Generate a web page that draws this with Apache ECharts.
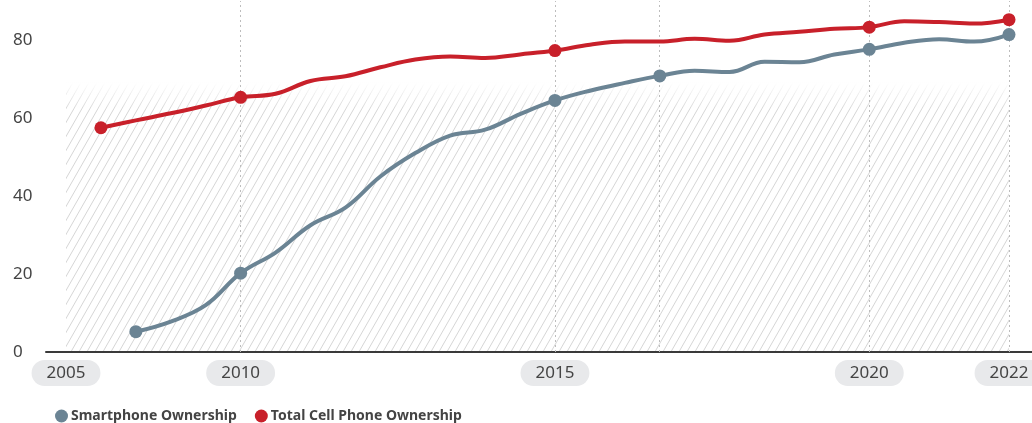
<!DOCTYPE html>
<html>
<head>
<meta charset="utf-8">
<script src="https://cdn.jsdelivr.net/npm/echarts@6/dist/echarts.min.js"></script>
<style>html,body{margin:0;padding:0;background:#fff;}#c{width:1032px;height:423px;}</style>
</head>
<body>
<div id="c"></div>
<script>
// ---- data ----
const categories = ['2005','2006','2007','2008','2009','2010','Jul 2010','2011','Jul 2011','2012','Jul 2012','2013','2014','Jul 2014','2015','Jul 2015','2016','Jul 2016','2017','2018','Jul 2018','2019','Jul 2019','2020','Jul 2020','2021','Jul 2021','2022'];
const tickLabels = ['2005','2010','2015','2020','2022'];
const guideLines = ['2010','2015','Jul 2016','2020','2022'];
const smartphone = ['-','-',5.2,7.8,12,20.2,25.5,32.5,37,45,51,55.5,57,61,64.5,67,69,70.8,72.1,71.8,74.4,74.3,76.3,77.6,79.3,80.2,79.6,81.4];
const totalCell = ['-',57.5,59.4,61.2,63.2,65.3,66.2,69.5,70.7,73,75,75.8,75.4,76.3,77.3,78.8,79.6,79.6,80.3,79.8,81.4,82.1,82.9,83.3,84.8,84.6,84.2,85.2];
const smartMarkers = ['2007','2010','2015','Jul 2016','2020','2022'];
const cellMarkers = ['2006','2010','2015','2020','2022'];
const yTicks = [0,20,40,60,80];

// hatch pattern
function hatch(){
  const w = 8, h = 14;
  const c = document.createElement('canvas');
  c.width = w; c.height = h;
  const g = c.getContext('2d');
  g.strokeStyle = '#d6d6d6';
  g.lineWidth = 1;
  for (let k = -1; k <= 1; k++) {
    g.beginPath();
    g.moveTo(k*w, h);
    g.lineTo(k*w + w, 0);
    g.stroke();
  }
  return c;
}

const font = 'Noto Sans';
const chart = echarts.init(document.getElementById('c'), null, {renderer:'canvas'});
chart.setOption({
  animation: false,
  textStyle: {fontFamily: font},
  grid: [
    {left: 66, right: 23, top: 1, bottom: 71, outerBoundsMode: 'none', containLabel: false},
    {left: 46, right: 0, top: 1, bottom: 71, outerBoundsMode: 'none', containLabel: false}
  ],
  legend: {
    data: ['Smartphone Ownership','Total Cell Phone Ownership'],
    left: 50, top: 404,
    icon: 'circle', itemWidth: 13, itemHeight: 13, itemGap: 18,
    textStyle: {fontFamily: font, fontWeight: 'bold', fontSize: 14, color: '#444', padding: [0,0,0,-2]}
  },
  xAxis: [{
    type: 'category', gridIndex: 0, data: categories, boundaryGap: false,
    axisLine: {show: false}, axisTick: {show: false}, splitLine: {show: false},
    axisLabel: {
      interval: (i, v) => tickLabels.indexOf(v) >= 0,
      formatter: v => tickLabels.indexOf(v) >= 0 ? v : '',
      margin: 8, color: '#444', fontSize: 17, fontFamily: font,
      backgroundColor: '#e8e9eb', borderRadius: 13, padding: [3, 15, 3, 15],
      lineHeight: 20, hideOverlap: false
    }
  },{
    type: 'value', gridIndex: 1, min: 0, max: 1,
    axisLine: {show: true, lineStyle: {color: '#3a3a3a', width: 2}},
    axisTick: {show: false}, axisLabel: {show: false}, splitLine: {show: false}
  }],
  yAxis: [{
    type: 'value', gridIndex: 0, min: 0, max: 90, interval: 20,
    axisLine: {show: false}, axisTick: {show: false}, splitLine: {show: false},
    axisLabel: {
      align: 'left', margin: 53, color: '#444', fontSize: 17, fontFamily: font,
      formatter: v => yTicks.indexOf(v) >= 0 ? String(v) : ''
    }
  },{
    type: 'value', gridIndex: 1, show: false, min: 0, max: 1
  }],
  series: [
    {
      name: 'bg', type: 'line', xAxisIndex: 0, yAxisIndex: 0, data: [], silent: true, z: 0,
      markArea: {
        silent: true, z: 0,
        data: [
          [{xAxis: '2005', yAxis: 0, itemStyle: {color: {image: hatch(), repeat: 'repeat'}}}, {xAxis: '2022', yAxis: 69}],
          [{xAxis: '2005', yAxis: 62, itemStyle: {color: {type:'linear', x:0, y:0, x2:0, y2:1, colorStops:[{offset:0,color:'rgba(255,255,255,1)'},{offset:1,color:'rgba(255,255,255,0)'}]}}}, {xAxis: '2022', yAxis: 69.2}]
        ]
      },
      markLine: {
        silent: true, symbol: 'none', label: {show: false}, z: 1,
        lineStyle: {color: '#bdbdbd', type: [2, 3], width: 1},
        data: guideLines.map(v => ({xAxis: v}))
      }
    },
    {
      name: 'Smartphone Ownership', type: 'line', xAxisIndex: 0, yAxisIndex: 0,
      data: smartphone, smooth: 0.4, clip: false, z: 3,
      symbol: 'circle',
      symbolSize: (v, p) => smartMarkers.indexOf(categories[p.dataIndex]) >= 0 ? 13 : 0,
      showAllSymbol: true,
      itemStyle: {color: '#6b8494', borderWidth: 0},
      lineStyle: {color: '#6b8494', width: 4}
    },
    {
      name: 'Total Cell Phone Ownership', type: 'line', xAxisIndex: 0, yAxisIndex: 0,
      data: totalCell, smooth: 0.4, clip: false, z: 3,
      symbol: 'circle',
      symbolSize: (v, p) => cellMarkers.indexOf(categories[p.dataIndex]) >= 0 ? 13 : 0,
      showAllSymbol: true,
      itemStyle: {color: '#c8202a', borderWidth: 0},
      lineStyle: {color: '#c8202a', width: 4}
    }
  ]
});
</script>
</body>
</html>
